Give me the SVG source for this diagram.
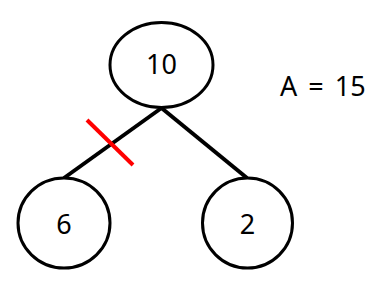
<svg xmlns="http://www.w3.org/2000/svg" width="389" height="284" viewBox="0 0 389 284">
<style>
.node{fill:#fff;stroke:#000;stroke-width:3}
.edge{stroke:#000;stroke-width:4;stroke-linecap:butt}
.lbl{font-family:"Noto Sans","Open Sans",sans-serif;font-size:27px;fill:#000;text-anchor:middle}
</style>
<rect width="389" height="284" fill="#fff"/>
<g id="connectors">
<line class="edge" x1="161.5" y1="108" x2="64" y2="178"/>
<line class="edge" x1="161.5" y1="108" x2="247" y2="178"/>
</g>
<line id="cut" x1="87" y1="120" x2="133" y2="165" stroke="#ff0000" stroke-width="4"/>
<g id="n10">
<ellipse class="node" cx="161.5" cy="65" rx="51.5" ry="42.5"/>
<text class="lbl" x="161.5" y="74">10</text>
</g>
<g id="n6">
<ellipse class="node" cx="64" cy="223" rx="46" ry="45"/>
<text class="lbl" x="64" y="234">6</text>
</g>
<g id="n2">
<ellipse class="node" cx="247.5" cy="223" rx="45" ry="45"/>
<text class="lbl" x="247.5" y="234">2</text>
</g>
<text id="eq" x="280" y="96" font-family="Noto Sans, sans-serif" font-size="27" word-spacing="4" fill="#000">A = 15</text>
</svg>
